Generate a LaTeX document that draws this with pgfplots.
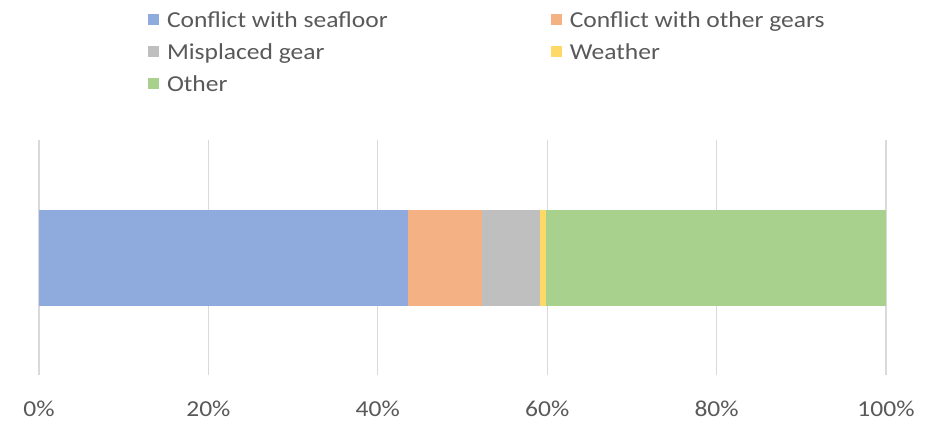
\documentclass[border=0pt]{standalone}
\usepackage{pgfplots}
\pgfplotsset{compat=1.18}
\usepackage{fontspec}
\setmainfont{Carlito}[FakeStretch=1.12]
\definecolor{cblue}{HTML}{8FAADC}
\definecolor{corange}{HTML}{F4B183}
\definecolor{cgray}{HTML}{BFBFBF}
\definecolor{cyellow}{HTML}{FFD966}
\definecolor{cgreen}{HTML}{A9D18E}
\definecolor{txt}{HTML}{595959}
\definecolor{gridc}{HTML}{D9D9D9}
\begin{document}
\begin{tikzpicture}
\path[use as bounding box] (0pt,0pt) rectangle (462.5pt,212pt);
\begin{axis}[
  at={(19.5pt,24.5pt)}, anchor=south west,
  scale only axis, width=423.5pt, height=117.5pt,
  xbar stacked, bar width=48pt,
  xmin=0, xmax=100, ymin=-0.5, ymax=0.5,
  xtick={0,20,40,60,80,100},
  xticklabel={\pgfmathprintnumber{\tick}\%},
  /pgf/number format/assume math mode=true,
  xticklabel style={anchor=center, yshift=-17pt, font=\fontsize{11.4}{13}\selectfont, text=txt},
  ytick=\empty,
  axis line style={draw=none},
  major tick length=0pt,
  xmajorgrids, grid style={gridc, line width=0.6pt},
  legend columns=2,
  legend style={at={(0.12869,1.5562)}, anchor=north west, draw=none, fill=none,
    inner sep=0pt, outer sep=0pt, row sep=4pt,
    font=\fontsize{11.4}{13}\selectfont, text=txt,
    nodes={anchor=base west, inner sep=0pt, text height=9pt, text depth=3pt},
    /tikz/every odd column/.append style={column sep=4pt},
    /tikz/every even column/.append style={column sep=81.5pt}},
  legend image code/.code={\fill[#1] (0pt,1pt) rectangle (5.5pt,6.5pt);},
]
\addplot[fill=cblue, draw=none] coordinates {(43.6,0)};
\addplot[fill=corange, draw=none] coordinates {(8.7,0)};
\addplot[fill=cgray, draw=none] coordinates {(6.9,0)};
\addplot[fill=cyellow, draw=none] coordinates {(0.7,0)};
\addplot[fill=cgreen, draw=none] coordinates {(40.1,0)};
\legend{Conflict with seafloor, Conflict with other gears, Misplaced gear, Weather, Other}
\end{axis}
\end{tikzpicture}
\end{document}
